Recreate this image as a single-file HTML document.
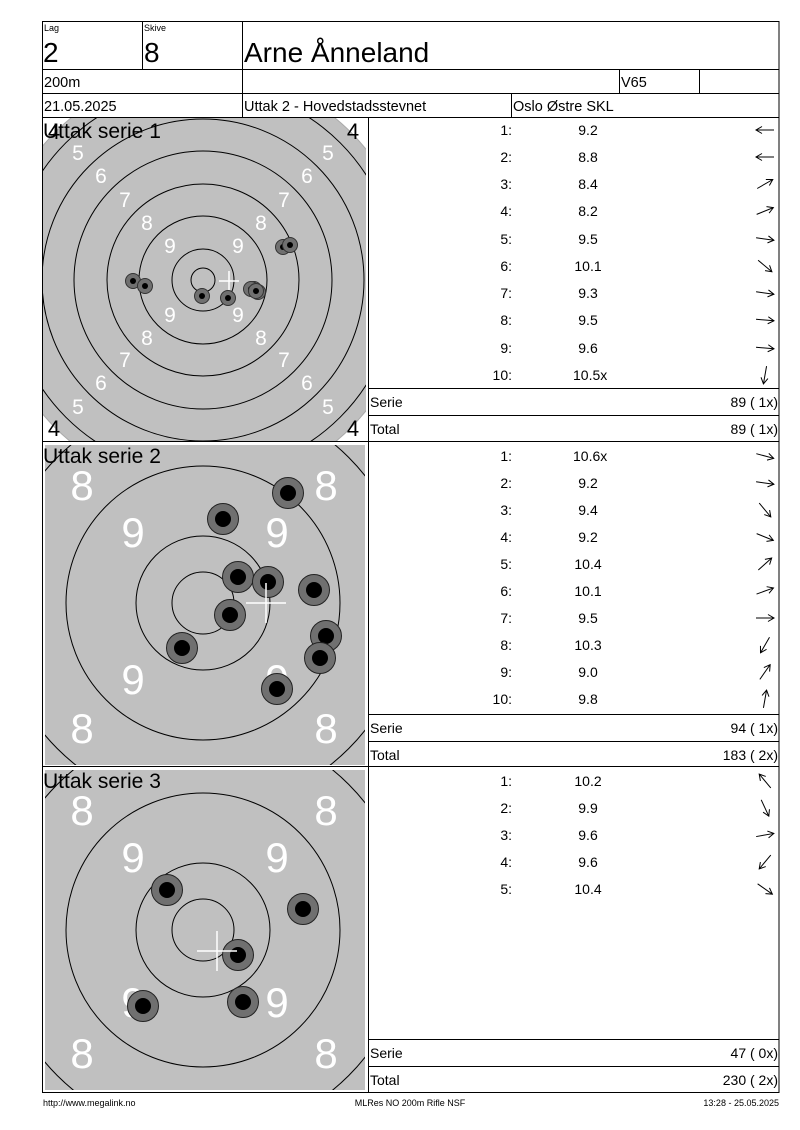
<!DOCTYPE html>
<html><head><meta charset="utf-8"><style>
html,body{margin:0;padding:0;background:#fff;}
svg{display:block;}
text{font-family:"Liberation Sans",Arial,sans-serif;}
</style></head><body>
<svg width="800" height="1130" viewBox="0 0 800 1130" xmlns="http://www.w3.org/2000/svg">
<defs>
<clipPath id="c1"><rect x="43" y="118" width="323" height="323"/></clipPath>
<clipPath id="c2"><rect x="45" y="445" width="320" height="320"/></clipPath>
<clipPath id="c3"><rect x="45" y="770" width="320" height="320"/></clipPath>
<g id="ar" fill="none" stroke="#000" stroke-width="1"><line x1="-9" y1="0" x2="9" y2="0"/><polyline points="3,-3.5 9,0 3,3.5"/></g>
<g id="s1"><circle r="7.5" fill="#707070" stroke="#333" stroke-width="1"/><circle r="3" fill="#000"/></g>
<g id="s2"><circle r="15.5" fill="#707070" stroke="#222" stroke-width="1"/><circle r="8" fill="#000"/></g>
</defs>

<g stroke="#000" stroke-width="1" fill="none">
<rect x="42.5" y="21.5" width="736.5" height="1071"/>
<line x1="42" y1="69.5" x2="779" y2="69.5"/>
<line x1="42" y1="93.5" x2="779" y2="93.5"/>
<line x1="42" y1="117.5" x2="779" y2="117.5"/>
<line x1="242.5" y1="21" x2="242.5" y2="117"/>
<line x1="142.5" y1="21" x2="142.5" y2="69"/>
<line x1="619.5" y1="69" x2="619.5" y2="93"/>
<line x1="699.5" y1="69" x2="699.5" y2="93"/>
<line x1="511.5" y1="93" x2="511.5" y2="117"/>
<line x1="368.5" y1="117" x2="368.5" y2="1092"/>
<line x1="42" y1="441.5" x2="779" y2="441.5"/>
<line x1="42" y1="766.5" x2="779" y2="766.5"/>
<line x1="368" y1="388.5" x2="779" y2="388.5"/>
<line x1="368" y1="415.5" x2="779" y2="415.5"/>
<line x1="368" y1="714.5" x2="779" y2="714.5"/>
<line x1="368" y1="741.5" x2="779" y2="741.5"/>
<line x1="368" y1="1039.5" x2="779" y2="1039.5"/>
<line x1="368" y1="1066.5" x2="779" y2="1066.5"/>
</g>
<text x="44" y="31" font-size="9">Lag</text>
<text x="144" y="31" font-size="9">Skive</text>
<text x="43" y="62" font-size="28">2</text>
<text x="144" y="62" font-size="28">8</text>
<text x="244" y="62" font-size="28">Arne Ånneland</text>
<text x="44" y="87" font-size="14.5">200m</text>
<text x="621" y="87" font-size="14.5">V65</text>
<text x="44" y="111" font-size="14.5">21.05.2025</text>
<text x="244" y="111" font-size="14.5">Uttak 2 - Hovedstadsstevnet</text>
<text x="513" y="111" font-size="14.5">Oslo Østre SKL</text>

<!-- Target 1 -->
<g clip-path="url(#c1)">
<circle cx="203" cy="280" r="209" fill="#c0c0c0"/>
<g fill="none" stroke="#000" stroke-width="1">
<circle cx="203" cy="280" r="209" stroke="#aaa"/>
<circle cx="203" cy="280" r="194"/>
<circle cx="203" cy="280" r="161"/><circle cx="203" cy="280" r="129"/><circle cx="203" cy="280" r="96"/>
<circle cx="203" cy="280" r="64"/><circle cx="203" cy="280" r="31"/><circle cx="203" cy="280" r="12"/>
</g>
</g>
<g fill="#fff" font-size="21" text-anchor="middle">
<text x="78" y="160">5</text><text x="328" y="160">5</text><text x="78" y="414">5</text><text x="328" y="414">5</text>
<text x="101" y="183">6</text><text x="307" y="183">6</text><text x="101" y="390">6</text><text x="307" y="390">6</text>
<text x="125" y="207">7</text><text x="284" y="207">7</text><text x="125" y="367">7</text><text x="284" y="367">7</text>
<text x="147" y="230">8</text><text x="261" y="230">8</text><text x="147" y="345">8</text><text x="261" y="345">8</text>
<text x="170" y="253">9</text><text x="238" y="253">9</text><text x="170" y="322">9</text><text x="238" y="322">9</text>
</g>
<g font-size="22" text-anchor="middle" fill="#000">
<text x="54" y="139">4</text><text x="353" y="139">4</text><text x="54" y="436">4</text><text x="353" y="436">4</text>
</g>
<g stroke="#fff" stroke-width="1.5"><line x1="219" y1="281" x2="239" y2="281"/><line x1="229" y1="271" x2="229" y2="291"/></g>
<use href="#s1" x="283" y="247"/><use href="#s1" x="290" y="245"/>
<use href="#s1" x="133" y="281"/><use href="#s1" x="145" y="286"/>
<use href="#s1" x="202" y="296"/><use href="#s1" x="228" y="298"/>
<use href="#s1" x="258" y="292"/><use href="#s1" x="254" y="289"/><use href="#s1" x="251" y="289"/><use href="#s1" x="256" y="291"/>
<text x="43" y="138" font-size="21">Uttak serie 1</text>

<!-- Target 2 -->
<rect x="45" y="445" width="320" height="320" fill="#c0c0c0"/>
<g clip-path="url(#c2)" fill="none" stroke="#000" stroke-width="1">
<circle cx="203" cy="603" r="206"/><circle cx="203" cy="603" r="137"/><circle cx="203" cy="603" r="67"/><circle cx="203" cy="603" r="31"/>
</g>
<g fill="#fff" font-size="42" text-anchor="middle">
<text x="82" y="500">8</text><text x="326" y="500">8</text><text x="82" y="743">8</text><text x="326" y="743">8</text>
<text x="133" y="547">9</text><text x="277" y="547">9</text><text x="133" y="694">9</text><text x="277" y="694">9</text>
</g>
<use href="#s2" x="288" y="493"/><use href="#s2" x="223" y="519"/><use href="#s2" x="238" y="577"/>
<use href="#s2" x="268" y="582"/><use href="#s2" x="314" y="590"/><use href="#s2" x="230" y="615"/>
<use href="#s2" x="326" y="636"/><use href="#s2" x="320" y="658"/><use href="#s2" x="182" y="648"/><use href="#s2" x="277" y="689"/>
<g stroke="#fff" stroke-width="1.5"><line x1="246" y1="603" x2="286" y2="603"/><line x1="266" y1="583" x2="266" y2="623"/></g>
<text x="43" y="463" font-size="21">Uttak serie 2</text>

<!-- Target 3 -->
<rect x="45" y="770" width="320" height="320" fill="#c0c0c0"/>
<g clip-path="url(#c3)" fill="none" stroke="#000" stroke-width="1">
<circle cx="203" cy="930" r="206"/><circle cx="203" cy="930" r="137"/><circle cx="203" cy="930" r="67"/><circle cx="203" cy="930" r="31"/>
</g>
<g fill="#fff" font-size="42" text-anchor="middle">
<text x="82" y="825">8</text><text x="326" y="825">8</text><text x="82" y="1068">8</text><text x="326" y="1068">8</text>
<text x="133" y="872">9</text><text x="277" y="872">9</text><text x="133" y="1017">9</text><text x="277" y="1017">9</text>
</g>
<use href="#s2" x="167" y="890"/><use href="#s2" x="303" y="909"/><use href="#s2" x="238" y="955"/>
<use href="#s2" x="143" y="1006"/><use href="#s2" x="243" y="1002"/>
<g stroke="#fff" stroke-width="1.5"><line x1="197" y1="951" x2="237" y2="951"/><line x1="217" y1="931" x2="217" y2="971"/></g>
<text x="43" y="788" font-size="21">Uttak serie 3</text>

<g font-size="14" fill="#000">
<g text-anchor="end">
<text x="512" y="135">1:</text><text x="512" y="162">2:</text><text x="512" y="189">3:</text><text x="512" y="216">4:</text><text x="512" y="244">5:</text>
<text x="512" y="271">6:</text><text x="512" y="298">7:</text><text x="512" y="325">8:</text><text x="512" y="353">9:</text><text x="512" y="380">10:</text>
<text x="512" y="461">1:</text><text x="512" y="488">2:</text><text x="512" y="515">3:</text><text x="512" y="542">4:</text><text x="512" y="569">5:</text>
<text x="512" y="596">6:</text><text x="512" y="623">7:</text><text x="512" y="650">8:</text><text x="512" y="677">9:</text><text x="512" y="704">10:</text>
<text x="512" y="786">1:</text><text x="512" y="813">2:</text><text x="512" y="840">3:</text><text x="512" y="867">4:</text><text x="512" y="894">5:</text>
</g>
<g text-anchor="middle">
<text x="588" y="135">9.2</text><text x="588" y="162">8.8</text><text x="588" y="189">8.4</text><text x="588" y="216">8.2</text><text x="588" y="244">9.5</text>
<text x="588" y="271">10.1</text><text x="588" y="298">9.3</text><text x="588" y="325">9.5</text><text x="588" y="353">9.6</text>
<text x="588" y="488">9.2</text><text x="588" y="515">9.4</text><text x="588" y="542">9.2</text><text x="588" y="569">10.4</text>
<text x="588" y="596">10.1</text><text x="588" y="623">9.5</text><text x="588" y="650">10.3</text><text x="588" y="677">9.0</text><text x="588" y="704">9.8</text>
<text x="588" y="786">10.2</text><text x="588" y="813">9.9</text><text x="588" y="840">9.6</text><text x="588" y="867">9.6</text><text x="588" y="894">10.4</text>
</g>
<text x="573" y="380">10.5x</text>
<text x="573" y="461">10.6x</text>
<text x="370" y="407">Serie</text><text x="370" y="434">Total</text>
<text x="370" y="733">Serie</text><text x="370" y="760">Total</text>
<text x="370" y="1058">Serie</text><text x="370" y="1085">Total</text>
<g text-anchor="end">
<text x="778" y="407">89 ( 1x)</text><text x="778" y="434">89 ( 1x)</text>
<text x="778" y="733">94 ( 1x)</text><text x="778" y="760">183 ( 2x)</text>
<text x="778" y="1058">47 ( 0x)</text><text x="778" y="1085">230 ( 2x)</text>
</g>
</g>

<use href="#ar" transform="translate(765,130) rotate(180)"/>
<use href="#ar" transform="translate(765,157) rotate(180)"/>
<use href="#ar" transform="translate(765,184) rotate(-30)"/>
<use href="#ar" transform="translate(765,211) rotate(-22)"/>
<use href="#ar" transform="translate(765,239) rotate(8)"/>
<use href="#ar" transform="translate(765,266) rotate(40)"/>
<use href="#ar" transform="translate(765,293) rotate(8)"/>
<use href="#ar" transform="translate(765,320) rotate(5)"/>
<use href="#ar" transform="translate(765,348) rotate(5)"/>
<use href="#ar" transform="translate(765,375) rotate(100)"/>

<use href="#ar" transform="translate(765,456) rotate(15)"/>
<use href="#ar" transform="translate(765,483) rotate(8)"/>
<use href="#ar" transform="translate(765,510) rotate(50)"/>
<use href="#ar" transform="translate(765,537) rotate(22)"/>
<use href="#ar" transform="translate(765,564) rotate(-42)"/>
<use href="#ar" transform="translate(765,591) rotate(-20)"/>
<use href="#ar" transform="translate(765,618) rotate(0)"/>
<use href="#ar" transform="translate(765,645) rotate(120)"/>
<use href="#ar" transform="translate(765,672) rotate(-55)"/>
<use href="#ar" transform="translate(765,699) rotate(-80)"/>

<use href="#ar" transform="translate(765,781) rotate(-130)"/>
<use href="#ar" transform="translate(765,808) rotate(65)"/>
<use href="#ar" transform="translate(765,835) rotate(-10)"/>
<use href="#ar" transform="translate(765,862) rotate(130)"/>
<use href="#ar" transform="translate(765,889) rotate(35)"/>

<g font-size="9" fill="#000">
<text x="43" y="1106">http://www.megalink.no</text>
<text x="410" y="1106" text-anchor="middle">MLRes NO 200m Rifle NSF</text>
<text x="779" y="1106" text-anchor="end">13:28 - 25.05.2025</text>
</g>
</svg>
</body></html>
